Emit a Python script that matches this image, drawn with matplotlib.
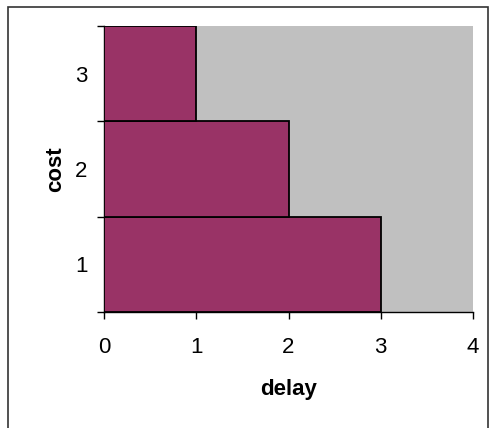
import matplotlib
matplotlib.use("Agg")
import matplotlib.pyplot as plt
from matplotlib.patches import Rectangle

cost = [1, 2, 3]
delay = [3, 2, 1]
x_ticks = [0, 1, 2, 3, 4]

plt.rcParams['font.family'] = ['Liberation Sans', 'DejaVu Sans']

fig = plt.figure(figsize=(4.9, 4.28), dpi=100)
ax = fig.add_axes([104/490, 1 - 312/428, (473-104)/490, (312-26)/428])
ax.set_facecolor('#C0C0C0')

ax.barh(cost, delay, height=1.0, color='#993366', edgecolor='black', linewidth=1.3, zorder=3)

ax.set_xlim(0, 4)
ax.set_ylim(0.5, 3.5)
ax.set_xticks(x_ticks)
ax.set_xticklabels([str(v) for v in x_ticks], fontsize=16)
ax.set_yticks(cost)
ax.set_yticklabels([str(v) for v in cost], fontsize=16)
ax.set_yticks([0.5, 1.5, 2.5, 3.5], minor=True)
ax.tick_params(axis='y', which='major', length=0, pad=12)
ax.tick_params(axis='y', which='minor', length=5, width=1, direction='out')
ax.tick_params(axis='x', which='major', length=5, width=1, direction='out', pad=13)

for s in ['top', 'right']:
    ax.spines[s].set_visible(False)
for s in ['left', 'bottom']:
    ax.spines[s].set_linewidth(1)
    ax.spines[s].set_color('black')

ax.set_xlabel('delay', fontsize=16, fontweight='bold', labelpad=15)
ax.set_ylabel('cost', fontsize=16, fontweight='bold', labelpad=6)

fig.patches.append(Rectangle((8/490, -0.1), (488-8)/490, 1.1 - 7/428,
                             transform=fig.transFigure, fill=False,
                             edgecolor='#333333', linewidth=1.2))

fig.savefig('out.png', dpi=100)
